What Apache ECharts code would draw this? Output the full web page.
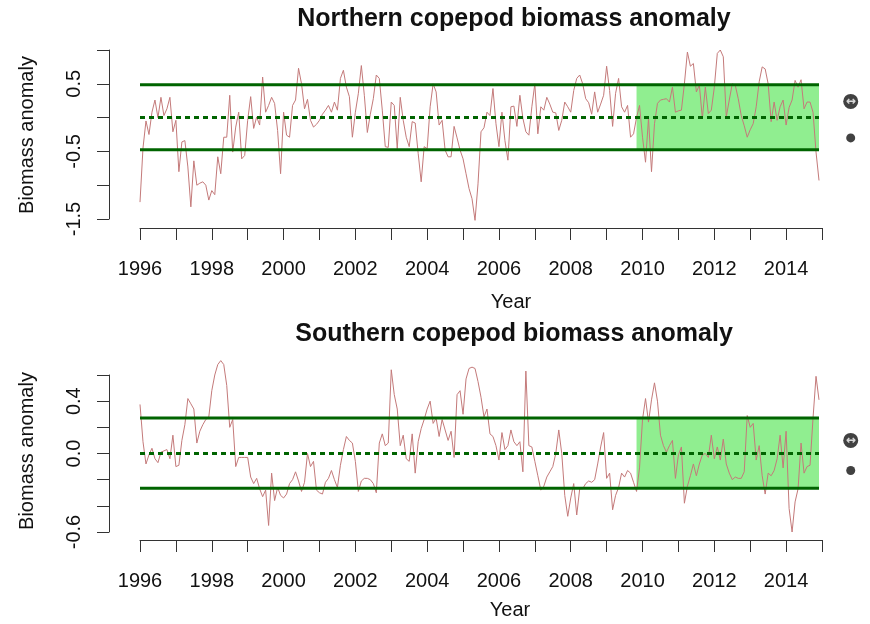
<!DOCTYPE html>
<html><head><meta charset="utf-8">
<script src="https://cdn.jsdelivr.net/npm/echarts@6/dist/echarts.min.js"></script>
<style>html,body{margin:0;padding:0;background:#fff}#c{width:870px;height:624px}</style>
</head><body><div id="c"></div>
<script>
const startYear = 1996;
// monthly anomalies, Jan 1996 .. Dec 2014 (one row per year)
const northValues = [
 -1.25,-0.45,-0.05,-0.25,0.08,0.26,0.00,0.30,0.03,0.13,0.30,-0.21,
 -0.04,-0.80,-0.36,-0.34,-0.73,-1.32,-0.64,-1.00,-0.97,-0.95,-1.00,-1.22,
 -1.08,-1.14,-0.58,-0.83,-0.29,-0.29,0.33,-0.51,-0.14,0.08,-0.61,-0.56,
 -0.04,0.31,-0.16,0.01,-0.11,0.60,0.08,0.18,0.30,0.21,-0.19,-0.83,
 0.08,-0.26,-0.29,0.18,0.26,0.73,0.50,0.13,0.27,-0.04,-0.14,-0.10,
 -0.04,0.05,0.11,0.18,0.08,0.23,0.11,0.58,0.70,0.45,0.31,-0.29,
 0.08,0.36,0.77,0.33,-0.22,0.05,0.28,0.63,0.58,0.11,-0.43,-0.44,
 0.23,0.18,-0.46,0.30,-0.04,-0.29,-0.43,-0.06,-0.08,-0.53,-0.95,-0.43,
 -0.46,0.16,0.50,0.38,-0.11,-0.04,-0.48,-0.58,-0.58,-0.13,-0.30,-0.48,
 -0.61,-0.83,-1.05,-1.20,-1.52,-0.98,-0.21,-0.15,0.08,0.03,0.43,-0.09,
 -0.43,0.08,-0.34,-0.63,0.16,0.17,-0.13,0.33,-0.01,-0.21,-0.26,0.16,
 0.50,-0.24,0.16,0.11,0.30,0.20,0.08,0.07,-0.19,-0.04,0.23,0.16,
 0.08,0.40,0.58,0.63,0.50,0.28,0.22,0.05,0.38,0.08,0.20,0.33,
 0.76,0.40,-0.13,0.36,0.58,0.16,0.08,0.18,-0.29,-0.24,0.00,0.18,
 -0.29,-0.66,-0.01,-0.80,-0.09,0.21,0.26,0.27,0.28,0.23,0.45,0.08,
 0.10,0.11,0.50,0.97,0.76,0.80,0.38,0.48,-0.01,0.45,0.06,0.11,
 0.45,0.95,1.00,0.90,0.01,0.26,0.50,0.48,0.28,0.03,-0.12,-0.29,
 -0.18,-0.09,0.16,0.53,0.75,0.72,0.50,-0.06,0.23,-0.04,0.16,0.26,
 -0.11,0.15,0.26,0.55,0.45,0.56,0.13,0.23,0.23,0.08,-0.51,-0.93
];
const southValues = [
 0.375,0.09,-0.08,-0.01,0.04,-0.04,-0.07,0.01,0.02,0.03,-0.04,0.14,
 -0.10,-0.09,0.10,0.22,0.42,0.38,0.34,0.08,0.17,0.22,0.26,0.28,
 0.48,0.60,0.68,0.71,0.68,0.52,0.20,0.26,-0.10,-0.03,-0.03,-0.03,
 -0.03,-0.18,-0.23,-0.19,-0.27,-0.33,-0.28,-0.55,-0.15,-0.36,-0.26,-0.32,
 -0.34,-0.31,-0.23,-0.20,-0.14,-0.21,-0.29,-0.22,0.00,-0.10,-0.06,-0.28,
 -0.30,-0.31,-0.22,-0.19,-0.13,-0.20,-0.26,-0.09,0.03,0.13,0.10,0.08,
 -0.06,-0.29,-0.21,-0.19,-0.19,-0.20,-0.23,-0.30,0.08,0.15,0.06,0.08,
 0.64,0.45,0.34,0.06,0.14,-0.04,-0.06,0.15,-0.15,0.09,0.19,0.26,
 0.34,0.40,0.23,0.27,0.13,0.26,0.18,0.10,0.17,-0.03,0.45,0.48,
 0.30,0.57,0.65,0.66,0.65,0.55,0.43,0.28,0.34,0.15,0.13,0.06,
 -0.05,0.16,0.03,0.06,0.18,0.09,0.06,0.09,-0.14,0.63,0.06,0.05,
 -0.06,-0.17,-0.28,-0.25,-0.18,-0.14,-0.10,0.00,0.18,0.00,-0.32,-0.48,
 -0.34,-0.23,-0.47,-0.27,-0.27,-0.23,-0.21,-0.22,-0.20,-0.08,0.05,0.16,
 -0.19,-0.15,-0.43,-0.32,-0.26,-0.15,-0.18,-0.13,-0.15,-0.22,-0.29,-0.11,
 0.26,0.42,0.24,0.41,0.54,0.40,0.14,0.06,0.01,0.06,0.10,-0.19,
 -0.01,0.05,-0.38,-0.25,-0.17,-0.08,-0.17,-0.08,-0.01,0.00,-0.03,0.14,
 -0.04,0.05,-0.05,0.11,-0.08,-0.15,-0.20,-0.18,-0.19,-0.19,-0.14,0.29,
 0.20,0.23,-0.05,0.06,-0.17,-0.31,-0.15,-0.17,-0.13,-0.04,0.14,-0.11,
 0.17,-0.42,-0.60,-0.37,-0.27,0.08,-0.15,-0.10,-0.09,0.27,0.59,0.41
];
// [lower, mean, upper] reference lines
const northBand = [-0.475, 0, 0.485];
const southBand = [-0.265, 0, 0.272];
const shadeStart = 2009.833;
// status symbols: [trend symbol value, dot value]
const markerYear = 2015.8;
const northMarkers = [0.24, -0.3];
const southMarkers = [0.1, -0.13];
const xTickLabels = ['1996','1998','2000','2002','2004','2006','2008','2010','2012','2014'];
const northTickLabels = ['-1.5','-0.5','0.5'];
const southTickLabels = ['-0.6','0.0','0.4'];
const titles = ['Northern copepod biomass anomaly','Southern copepod biomass anomaly'];
const yName = 'Biomass anomaly';
const xName = 'Year';

const FONT = 'Liberation Sans, Arial, sans-serif';
const toPts = vals => vals.map((v, i) => [startYear + i / 12, v]);
const endYear = startYear + (northValues.length - 1) / 12;

const chart = echarts.init(document.getElementById('c'), null, {renderer: 'canvas'});

function xAxisFor(gi, off) {
  return {
    type: 'value', gridIndex: gi, min: 1996, max: 2015, interval: 1, offset: off,
    axisLine: {show: true, onZero: false, lineStyle: {color: '#333', width: 1}},
    axisTick: {show: true, length: 12, lineStyle: {color: '#333'}},
    splitLine: {show: false},
    axisLabel: {margin: 31, fontSize: 20, color: '#111', fontFamily: FONT, showMinLabel: true, showMaxLabel: true,
      formatter: v => xTickLabels.includes(String(Math.round(v))) && Math.abs(v - Math.round(v)) < 1e-6 ? String(Math.round(v)) : ''}
  };
}
function yAxisFor(gi, mn, mx, iv, labels) {
  return {
    type: 'value', gridIndex: gi, min: mn, max: mx, interval: iv, offset: 31,
    axisLine: {show: true, onZero: false, lineStyle: {color: '#333', width: 1}},
    axisTick: {show: true, length: 12, lineStyle: {color: '#333'}},
    splitLine: {show: false},
    axisLabel: {rotate: 90, margin: 25, fontSize: 20, color: '#111', fontFamily: FONT, showMinLabel: true, showMaxLabel: true,
      formatter: v => { const s = (Math.abs(v) < 1e-9 ? 0 : v).toFixed(1); return labels.includes(s) ? s : ''; }}
  };
}

function panelSeries(gi, vals, band, markers) {
  const s = [];
  s.push({type: 'line', xAxisIndex: gi, yAxisIndex: gi, z: 1, silent: true, showSymbol: false,
    lineStyle: {opacity: 0}, data: [[shadeStart, band[0]], [endYear, band[0]]],
    markArea: {silent: true, itemStyle: {color: '#90EE90', opacity: 1}, label: {show: false},
      data: [[{coord: [shadeStart, band[0]]}, {coord: [endYear, band[2]]}]]}});
  s.push({type: 'line', xAxisIndex: gi, yAxisIndex: gi, z: 2, silent: true, showSymbol: false, clip: false,
    lineStyle: {color: '#c47a7a', width: 1}, data: toPts(vals)});
  band.forEach((b, k) => {
    s.push({type: 'line', xAxisIndex: gi, yAxisIndex: gi, z: 3, silent: true, showSymbol: false,
      lineStyle: {color: '#006400', width: 3, type: k === 1 ? [5, 4] : 'solid'},
      data: [[startYear, b], [endYear, b]]});
  });
  s.push({type: 'scatter', xAxisIndex: gi, yAxisIndex: gi, z: 4, silent: true, clip: false,
    symbol: 'circle', symbolSize: 15, itemStyle: {color: '#111'},
    label: {show: true, position: 'inside', formatter: '\u2194', color: '#fff', fontSize: 12, fontWeight: 'bold', fontFamily: 'DejaVu Sans'},
    data: [[markerYear, markers[0]]]});
  s.push({type: 'scatter', xAxisIndex: gi, yAxisIndex: gi, z: 4, silent: true, clip: false,
    symbol: 'circle', symbolSize: 9, itemStyle: {color: '#111'},
    data: [[markerYear, markers[1]]]});
  return s;
}

const txt = (text, x, y, size, bold, rot) => ({type: 'text', x, y, rotation: rot || 0, silent: true,
  style: {text, fontSize: size, fontWeight: bold ? 'bold' : 'normal', fontFamily: FONT, fill: '#111',
    textAlign: 'center', textVerticalAlign: 'middle'}});

chart.setOption({
  animation: false,
  backgroundColor: '#fff',
  grid: [
    {left: 140, right: 48, top: 50, bottom: 405},
    {left: 140, right: 48, top: 375, bottom: 92}
  ],
  xAxis: [xAxisFor(0, 9), xAxisFor(1, 8)],
  yAxis: [yAxisFor(0, -1.5, 1.0, 0.5, northTickLabels), yAxisFor(1, -0.6, 0.6, 0.2, southTickLabels)],
  series: [...panelSeries(0, northValues, northBand, northMarkers), ...panelSeries(1, southValues, southBand, southMarkers)],
  graphic: [
    txt(titles[0], 514, 19, 25, true),
    txt(titles[1], 514, 334, 25, true),
    txt(xName, 511, 302, 20),
    txt(xName, 510, 610, 20),
    txt(yName, 27, 135, 20, false, Math.PI / 2),
    txt(yName, 27, 451, 20, false, Math.PI / 2)
  ]
});
</script></body></html>
